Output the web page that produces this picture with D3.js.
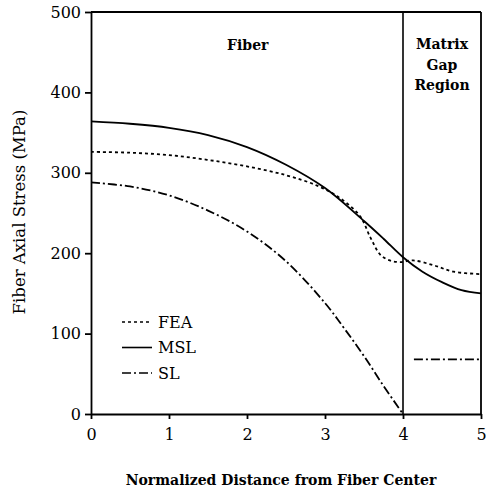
<!DOCTYPE html>
<html>
<head>
<meta charset="utf-8">
<script src="https://cdn.jsdelivr.net/npm/d3@7"></script>
<style>
	body { margin: 0; background: #fff; }
	svg text { font-family: "DejaVu Serif", "Liberation Serif", serif; fill: #000; }
	.axis path, .axis line { stroke: #000; stroke-width: 1.8; }
	.axis text { font-size: 16px; }
</style>
</head>
<body>
<svg id="chart"></svg>
<script>
// curve data
const feaX = [0, 0.5, 1, 1.5, 2, 2.5, 2.9, 3.2, 3.45, 3.58, 3.71, 3.83, 3.96, 4.13, 4.39, 4.65, 5];
const feaY = [326, 325, 322, 316, 308, 297, 284, 268, 246, 220, 198, 191, 189, 191, 185, 177, 174];
const mslX = [0, 0.5, 1, 1.5, 2, 2.5, 3, 3.5, 3.75, 4, 4.25, 4.5, 4.75, 5];
const mslY = [364, 361, 356, 347, 332, 310, 281, 240, 218, 195, 177, 164, 154, 150];
const slX = [0, 0.5, 1, 1.5, 2, 2.5, 3, 3.25, 3.5, 3.75, 4];
const slY = [288, 283, 272, 253, 227, 190, 138, 106, 72, 35, 0];
const slGapX = [4.14, 5];
const slGapY = [68, 68];
const xTicks = [0, 1, 2, 3, 4, 5];
const yTicks = [0, 100, 200, 300, 400, 500];
const seriesNames = ["FEA", "MSL", "SL"];

const margin = { top: 12, right: 5, bottom: 74, left: 91 };
const viewWidth = 486, viewHeight = 488;
const width = viewWidth - margin.left - margin.right;
const height = viewHeight - margin.top - margin.bottom;

const svg = d3.select("#chart")
	.attr("width", viewWidth)
	.attr("height", viewHeight)
	.append("g")
	.attr("transform", "translate(" + margin.left + "," + margin.top + ")");

const x = d3.scaleLinear().domain([0, 5]).range([0, width]);
const y = d3.scaleLinear().domain([0, 500]).range([height, 0]);

const dashes = { FEA: "3,3", MSL: null, SL: "9,3,2,3" };

// frame
svg.append("line").attr("x1", 0).attr("x2", width).attr("y1", 0).attr("y2", 0)
	.attr("stroke", "#000").attr("stroke-width", 1.8);
svg.append("line").attr("x1", width).attr("x2", width).attr("y1", 0).attr("y2", height)
	.attr("stroke", "#000").attr("stroke-width", 1.8);
svg.append("line").attr("x1", x(4)).attr("x2", x(4)).attr("y1", y(0)).attr("y2", y(500))
	.attr("stroke", "#000").attr("stroke-width", 1.6);

svg.append("g")
	.attr("class", "axis")
	.attr("transform", "translate(0," + height + ")")
	.call(d3.axisBottom(x).tickValues(xTicks).tickSize(5).tickSizeOuter(0).tickPadding(10).tickFormat(d3.format("d")))
	.attr("font-family", null);

svg.append("g")
	.attr("class", "axis")
	.call(d3.axisLeft(y).tickValues(yTicks).tickSize(6).tickSizeOuter(0).tickPadding(4).tickFormat(d3.format("d")))
	.attr("font-family", null);

const line = d3.line()
	.x(d => x(d[0]))
	.y(d => y(d[1]))
	.curve(d3.curveCatmullRom.alpha(0.5));

function drawSeries(xs, ys, name) {
	svg.append("path")
		.datum(d3.zip(xs, ys))
		.attr("fill", "none")
		.attr("stroke", "#000")
		.attr("stroke-width", 1.8)
		.attr("stroke-dasharray", dashes[name])
		.attr("d", line);
}

drawSeries(feaX, feaY, "FEA");
drawSeries(mslX, mslY, "MSL");
drawSeries(slX, slY, "SL");
drawSeries(slGapX, slGapY, "SL");

// region labels
svg.append("text")
	.attr("x", x(2.01)).attr("y", 38)
	.attr("text-anchor", "middle")
	.style("font-weight", "bold").style("font-size", "14px")
	.text("Fiber");

["Matrix", "Gap", "Region"].forEach(function (t, i) {
	svg.append("text")
		.attr("x", x(4.5)).attr("y", 37 + i * 20.5)
		.attr("text-anchor", "middle")
		.style("font-weight", "bold").style("font-size", "14px")
		.text(t);
});

// legend
seriesNames.forEach(function (name, i) {
	const ly = 310 + i * 25.5;
	svg.append("line")
		.attr("x1", 31).attr("x2", 61).attr("y1", ly).attr("y2", ly)
		.attr("stroke", "#000").attr("stroke-width", 1.6)
		.attr("stroke-dasharray", dashes[name]);
	svg.append("text")
		.attr("x", 67).attr("y", ly).attr("dy", ".35em")
		.style("font-size", "16px")
		.text(name);
});

// axis titles
svg.append("text")
	.attr("x", width / 2 - 5).attr("y", height + 71)
	.attr("text-anchor", "middle")
	.style("font-weight", "bold").style("font-size", "14px")
	.text("Normalized Distance from Fiber Center");

svg.append("text")
	.attr("transform", "rotate(-90)")
	.attr("x", 0 - 200).attr("y", 0 - 66)
	.attr("text-anchor", "middle")
	.style("font-size", "16.5px")
	.text("Fiber Axial Stress (MPa)");
</script>
</body>
</html>
